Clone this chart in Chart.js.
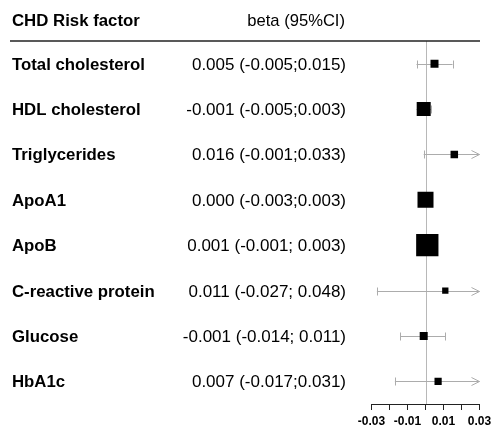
<!DOCTYPE html>
<html><head><meta charset="utf-8">
<script src="https://cdn.jsdelivr.net/npm/chart.js@4.4.1/dist/chart.umd.min.js"></script>
<style>html,body{margin:0;padding:0;background:#fff;overflow:hidden}#wrap{width:491px;height:433px;position:relative}</style>
</head><body><div id="wrap"><canvas id="c"></canvas></div>
<script>
const factors = ["Total cholesterol","HDL cholesterol","Triglycerides","ApoA1","ApoB","C-reactive protein","Glucose","HbA1c"];
const beta = [0.005,-0.001,0.016,0.000,0.001,0.011,-0.001,0.007];
const ciLow = [-0.005,-0.005,-0.001,-0.003,-0.001,-0.027,-0.014,-0.017];
const ciHigh = [0.015,0.003,0.033,0.003,0.003,0.048,0.011,0.031];
const ciText = ["0.005 (-0.005;0.015)","-0.001 (-0.005;0.003)","0.016 (-0.001;0.033)","0.000 (-0.003;0.003)","0.001 (-0.001; 0.003)","0.011 (-0.027; 0.048)","-0.001 (-0.014; 0.011)","0.007 (-0.017;0.031)"];
const weights = [8,14,7.5,16,22.3,6.3,8,7.2];
const xTicks = [-0.03,-0.02,-0.01,0,0.01,0.02,0.03];
const xTickLabels = ["-0.03","","-0.01","","0.01","","0.03"];
const headers = ["CHD Risk factor","beta (95%CI)"];

const FONT = '"Liberation Sans", Arial, Helvetica, sans-serif';

const forestPlugin = {
  id: 'forest',
  beforeDatasetsDraw(chart) {
    const ctx = chart.ctx;
    const xs = chart.scales.x, ys = chart.scales.y;
    const area = chart.chartArea;
    const xmin = xs.min, xmax = xs.max;
    ctx.save();
    // zero line
    const x0 = Math.round(xs.getPixelForValue(0)) + 0.5;
    ctx.strokeStyle = '#b8b8b8';
    ctx.lineWidth = 1;
    ctx.beginPath();
    ctx.moveTo(x0, area.top);
    ctx.lineTo(x0, area.bottom);
    ctx.stroke();
    // CI lines
    ctx.strokeStyle = '#acacac';
    for (let i = 0; i < factors.length; i++) {
      const y = Math.round(ys.getPixelForValue(i)) + 0.5;
      const lo = Math.max(ciLow[i], xmin), hi = Math.min(ciHigh[i], xmax);
      const pl = xs.getPixelForValue(lo), ph = xs.getPixelForValue(hi);
      ctx.beginPath();
      ctx.moveTo(pl, y); ctx.lineTo(ph, y);
      ctx.stroke();
      ctx.beginPath();
      if (ciLow[i] < xmin) {
        ctx.moveTo(pl + 8, y - 4); ctx.lineTo(pl, y); ctx.lineTo(pl + 8, y + 4);
      } else {
        ctx.moveTo(Math.round(pl) + 0.5, y - 4); ctx.lineTo(Math.round(pl) + 0.5, y + 4);
      }
      ctx.stroke();
      ctx.beginPath();
      if (ciHigh[i] > xmax) {
        ctx.moveTo(ph - 8, y - 4); ctx.lineTo(ph, y); ctx.lineTo(ph - 8, y + 4);
      } else {
        ctx.moveTo(Math.round(ph) + 0.5, y - 4); ctx.lineTo(Math.round(ph) + 0.5, y + 4);
      }
      ctx.stroke();
    }
    ctx.restore();
  },
  afterDraw(chart) {
    const ctx = chart.ctx;
    const ys = chart.scales.y;
    const area = chart.chartArea;
    ctx.save();
    ctx.strokeStyle = '#222';
    ctx.lineWidth = 1.5;
    ctx.beginPath();
    ctx.moveTo(10, area.top); ctx.lineTo(480, area.top);
    ctx.stroke();
    ctx.fillStyle = '#000';
    ctx.textBaseline = 'alphabetic';
    ctx.font = 'bold 16.8px ' + FONT;
    ctx.textAlign = 'left';
    ctx.fillText(headers[0], 12, 25.5);
    ctx.font = '16.6px ' + FONT;
    ctx.textAlign = 'right';
    ctx.fillText(headers[1], 345, 25.5);
    for (let i = 0; i < factors.length; i++) {
      const y = ys.getPixelForValue(i) + 6;
      ctx.font = 'bold 16.8px ' + FONT;
      ctx.textAlign = 'left';
      ctx.fillText(factors[i], 12, y);
      ctx.font = '17px ' + FONT;
      ctx.textAlign = 'right';
      ctx.fillText(ciText[i], 346, y);
    }
    ctx.restore();
  }
};

new Chart(document.getElementById('c'), {
  type: 'scatter',
  data: {
    labels: factors,
    datasets: [{
      data: factors.map((f, i) => ({x: beta[i], y: f})),
      pointStyle: 'rect',
      pointRadius: weights.map(s => s / Math.SQRT2),
      pointHoverRadius: weights.map(s => s / Math.SQRT2),
      backgroundColor: '#000',
      borderColor: '#000',
      borderWidth: 0
    }]
  },
  options: {
    responsive: true,
    maintainAspectRatio: false,
    animation: false,
    events: [],
    layout: { autoPadding: false, padding: { left: 371.5, right: 11.5, top: 41, bottom: 0 } },
    plugins: { legend: { display: false }, tooltip: { enabled: false } },
    scales: {
      x: {
        type: 'linear',
        min: -0.03, max: 0.03,
        afterBuildTicks: (s) => { s.ticks = xTicks.map(v => ({ value: v })); },
        afterFit: (s) => { s.height = 29; s.paddingLeft = 0; s.paddingRight = 0; },
        ticks: {
          autoSkip: false,
          maxRotation: 0,
          padding: 4,
          color: '#000',
          font: { family: FONT, size: 12, weight: 'bold' },
          callback: (v, i) => xTickLabels[i]
        },
        grid: { drawOnChartArea: false, drawTicks: true, tickLength: 6, color: '#222', lineWidth: 1 },
        border: { display: true, color: '#222', width: 1 }
      },
      y: {
        type: 'category',
        labels: factors,
        offset: true,
        display: false
      }
    }
  },
  plugins: [forestPlugin]
});
</script>
</body></html>
